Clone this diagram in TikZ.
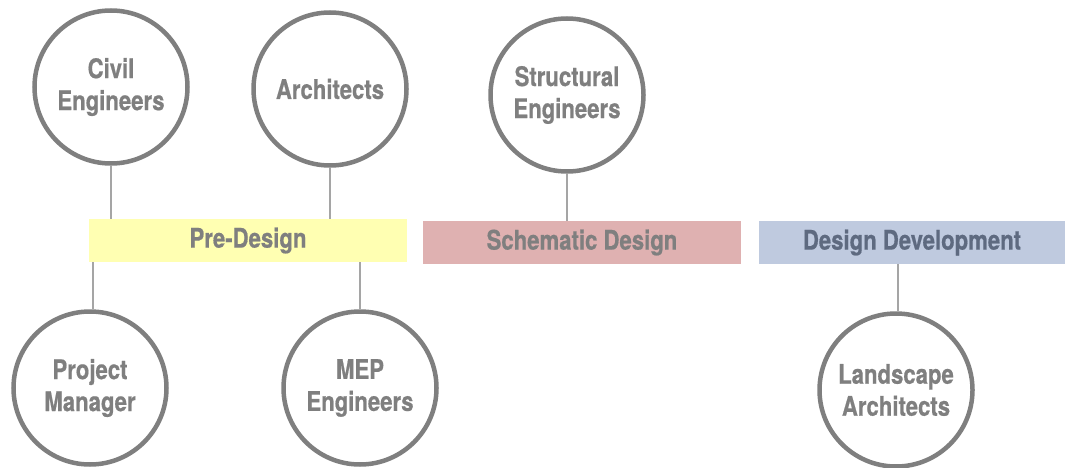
\documentclass[tikz,border=0pt]{standalone}
\usepackage{fontspec}
\setmainfont{TeX Gyre Heros}[FakeStretch=0.82, FakeBold=0.6]
\definecolor{txtgray}{HTML}{7F7F7F}
\definecolor{ringgray}{HTML}{7F7F7F}
\definecolor{linegray}{HTML}{A5A5A5}
\definecolor{preyellow}{HTML}{FFFFB2}
\definecolor{schpink}{HTML}{DFB1B1}
\definecolor{devblue}{HTML}{BFCADF}
\definecolor{devtext}{HTML}{5E6A80}
\tikzset{
  role/.style={circle, draw=ringgray, line width=4.5pt, minimum size=153pt, inner sep=0pt,
    align=center, text=txtgray, font=\fontsize{27}{32}\selectfont\bfseries},
  phase/.style={rectangle, minimum height=43pt, inner sep=0pt, text=txtgray,
    font=\fontsize{27}{30}\selectfont\bfseries},
  link/.style={draw=linegray, line width=2.2pt}
}
\begin{document}
\begin{tikzpicture}[x=1pt,y=-1pt]
\useasboundingbox (0,0) rectangle (1065,468);
\node[phase, fill=preyellow, minimum width=318pt] (pre) at (248,240.5) {Pre-Design};
\node[phase, fill=schpink, minimum width=318pt] (sch) at (582,242.5) {Schematic Design};
\node[phase, fill=devblue, minimum width=306pt, text=devtext] (dev) at (912,242.5) {Design Development};
\node[role] (civil) at (111,87) {Civil\\Engineers};
\node[role] (arch) at (330,89) {Architects};
\node[role] (struct) at (567,95) {Structural\\Engineers};
\node[role] (pm) at (90,388) {Project\\Manager};
\node[role] (mep) at (360,388) {MEP\\Engineers};
\node[role] (land) at (896,390) {Landscape\\Architects};
\draw[link] (civil.south) -- (civil.south |- pre.north);
\draw[link] (arch.south) -- (arch.south |- pre.north);
\draw[link] (struct.south) -- (struct.south |- sch.north);
\draw[link] ([xshift=3pt]pm.north) -- ([xshift=3pt]pm.north |- pre.south);
\draw[link] (mep.north) -- (mep.north |- pre.south);
\draw[link] ([xshift=2pt]land.north) -- ([xshift=2pt]land.north |- dev.south);
\end{tikzpicture}
\end{document}
